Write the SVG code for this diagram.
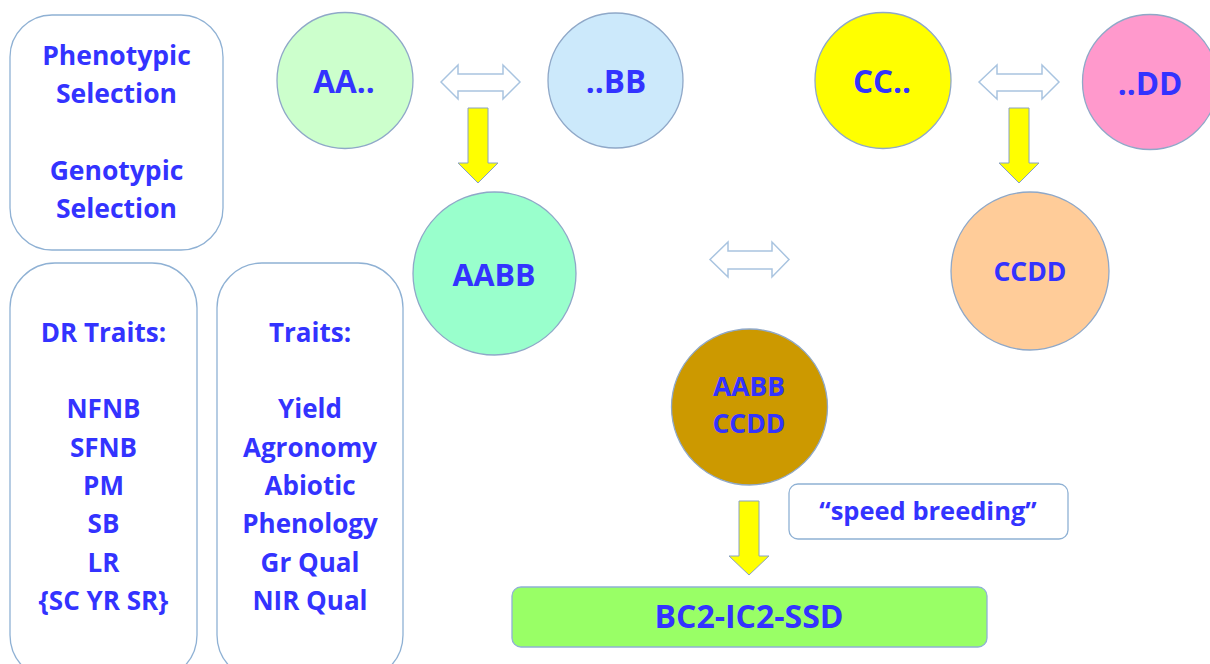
<svg xmlns="http://www.w3.org/2000/svg" width="1210" height="664" viewBox="0 0 1210 664">
<style>
text{font-family:"Open Sans","Noto Sans","Liberation Sans",sans-serif;font-weight:700;fill:#3333ff;text-anchor:middle}
.box{fill:#ffffff;stroke:#8fb1d4;stroke-width:1.3}
.circ{stroke:#8fa8c8;stroke-width:1.3}
.dbl{fill:#ffffff;stroke:#a9c4e0;stroke-width:1.5;stroke-linejoin:miter}
.down{fill:#ffff00;stroke:#8aa2c0;stroke-width:1}
.t26{font-size:26.5px}
.t25{font-size:26px}
.t30{font-size:31.5px}
</style>
<rect width="1210" height="664" fill="#ffffff"/>
<g id="selection">
<rect class="box" x="10" y="15" width="213" height="235" rx="42"/>
<text class="t26" x="116.5" y="65">Phenotypic</text>
<text class="t26" x="116.5" y="103">Selection</text>
<text class="t26" x="116.5" y="180">Genotypic</text>
<text class="t26" x="116.5" y="218">Selection</text>
</g>
<g id="dr-traits">
<rect class="box" x="10" y="263" width="187" height="417" rx="45"/>
<text class="t25" x="103.5" y="342">DR Traits:</text>
<text class="t25" x="103.5" y="418">NFNB</text>
<text class="t25" x="103.5" y="457">SFNB</text>
<text class="t25" x="103.5" y="495">PM</text>
<text class="t25" x="103.5" y="533">SB</text>
<text class="t25" x="103.5" y="572">LR</text>
<text class="t25" x="103.5" y="610">{SC YR SR}</text>
</g>
<g id="traits">
<rect class="box" x="217" y="263" width="186" height="417" rx="45"/>
<text class="t25" x="310" y="342">Traits:</text>
<text class="t25" x="310" y="418">Yield</text>
<text class="t25" x="310" y="457">Agronomy</text>
<text class="t25" x="310" y="495">Abiotic</text>
<text class="t25" x="310" y="533">Phenology</text>
<text class="t25" x="310" y="572">Gr Qual</text>
<text class="t25" x="310" y="610">NIR Qual</text>
</g>
<g id="connectors">
<polygon class="dbl" points="441,82 458,65 458,74 503,74 503,65 520,82 503,99 503,91 458,91 458,99"/>
<polygon class="dbl" points="979,82 997,65 997,74 1042,74 1042,65 1059,82 1042,99 1042,91 997,91 997,99"/>
<polygon class="dbl" points="710,259.5 728,242 728,251 772,251 772,242 789,259.5 772,277 772,269 728,269 728,277"/>
<polygon class="down" points="468,108 488,108 488,163 498,163 478,183 458,163 468,163"/>
<polygon class="down" points="1009,108 1029,108 1029,163 1039,163 1019,183 999,163 1009,163"/>
<polygon class="down" points="739,501 759,501 759,556 769,556 749,575 729,556 739,556"/>
</g>
<g id="AA">
<circle class="circ" cx="345" cy="80.5" r="68" fill="#ccffcc"/>
<text class="t30" x="344" y="93">AA..</text>
</g>
<g id="BB">
<circle class="circ" cx="615.5" cy="80.5" r="67.5" fill="#cce9fb"/>
<text class="t30" x="616" y="93">..BB</text>
</g>
<g id="CC">
<circle class="circ" cx="883" cy="80.5" r="68" fill="#ffff00"/>
<text class="t30" x="882" y="93">CC..</text>
</g>
<g id="DD">
<circle class="circ" cx="1150" cy="82" r="67.5" fill="#ff99cc"/>
<text class="t30" x="1150" y="95">..DD</text>
</g>
<g id="AABB">
<circle class="circ" cx="494.5" cy="273.5" r="81.5" fill="#99ffcc"/>
<text style="font-size:30.5px" x="494" y="286">AABB</text>
</g>
<g id="CCDD">
<circle class="circ" cx="1030" cy="271" r="79" fill="#ffcc99"/>
<text class="t26" x="1030" y="281">CCDD</text>
</g>
<g id="AABBCCDD">
<circle class="circ" cx="749.5" cy="407" r="78" fill="#cc9900"/>
<text class="t26" x="749" y="396">AABB</text>
<text class="t26" x="749" y="433">CCDD</text>
</g>
<g id="speed-breeding">
<rect class="box" x="789" y="484" width="279" height="55" rx="9"/>
<text style="font-size:25.5px" x="928" y="520">“speed breeding”</text>
</g>
<g id="bc2">
<rect x="512" y="587" width="475" height="60" rx="9" fill="#99ff66" stroke="#8fb1d4" stroke-width="1.3"/>
<text style="font-size:32px" x="749" y="628">BC2-IC2-SSD</text>
</g>
</svg>
